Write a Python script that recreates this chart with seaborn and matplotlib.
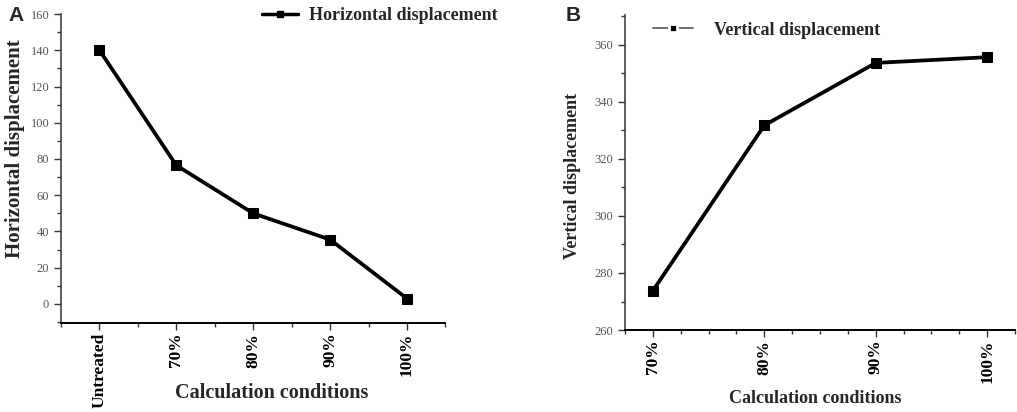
import numpy as np
import pandas as pd
import matplotlib
matplotlib.use('Agg')
import matplotlib.pyplot as plt
from matplotlib.lines import Line2D
from matplotlib.ticker import MultipleLocator, FixedLocator
import seaborn as sns

# Data
conditions_a = ['Untreated', '70%', '80%', '90%', '100%']
horizontal = [140.0, 76.5, 50.0, 35.5, 3.0]

conditions_b = ['70%', '80%', '90%', '100%']
vertical = [273.8, 331.8, 353.7, 355.7]

sns.set_theme(style='white')
plt.rcParams['font.family'] = ['Liberation Serif', 'DejaVu Serif']

df_a = pd.DataFrame({'condition': conditions_a, 'value': horizontal})
df_b = pd.DataFrame({'condition': conditions_b, 'value': vertical})

fig = plt.figure(figsize=(10.17, 4.12), dpi=100)
ax_a = fig.add_axes([0.060, 0.216, 0.378, 0.750])
ax_b = fig.add_axes([0.6146, 0.199, 0.3835, 0.7646])

tick_gray = '#555555'

def style_axis(ax, labels, ylim, yticks, yminor, xmin, xmax, xminor_step):
    ax.set_ylim(*ylim)
    ax.set_xlim(xmin, xmax)
    ax.yaxis.set_major_locator(FixedLocator(yticks))
    ax.yaxis.set_minor_locator(MultipleLocator(yminor))
    ax.set_xticks(range(len(labels)))
    ax.set_xticklabels(labels, rotation=90, fontweight='bold', fontsize=12.5, color='black')
    ax.xaxis.set_minor_locator(MultipleLocator(xminor_step))
    for s in ['top', 'right']:
        ax.spines[s].set_visible(False)
    ax.spines['left'].set_color('#444444')
    ax.spines['bottom'].set_color('black')
    ax.spines['left'].set_linewidth(1.2)
    ax.spines['bottom'].set_linewidth(1.4)
    ax.tick_params(axis='both', which='major', direction='out', length=5, width=1.0,
                   color='#333333', bottom=True, left=True)
    ax.tick_params(axis='both', which='minor', direction='out', length=3, width=1.0,
                   color='#333333', bottom=True, left=True)
    ax.tick_params(axis='y', labelsize=9, labelcolor=tick_gray)
    ax.tick_params(axis='x', pad=2)
    ax.set_facecolor('white')

# Panel A
sns.lineplot(data=df_a, x='condition', y='value', sort=False, marker='s', markersize=7,
             color='black', linewidth=2.7, markeredgecolor='black', ax=ax_a)
style_axis(ax_a, conditions_a, (-10.5, 160), np.arange(0, 161, 20), 10, -0.5, 4.5, 0.5)
ax_a.set_xlabel('Calculation conditions', fontsize=14.5, fontweight='bold')
ax_a.xaxis.set_label_coords(0.547, -0.227)
ax_a.xaxis.label.set_va('center')
ax_a.set_ylabel('Horizontal displacement', fontsize=15, fontweight='bold')
ax_a.yaxis.set_label_coords(-0.12, 0.563)
ax_a.yaxis.label.set_va('center')
h_a = Line2D([], [], color='black', linewidth=2.5, marker='s', markersize=5)
ax_a.legend([h_a], ['Horizontal displacement'], loc='upper left', bbox_to_anchor=(0.48, 1.075),
            frameon=False, prop={'weight': 'bold', 'size': 13}, handlelength=2.0,
            handletextpad=0.6)

# Panel B
sns.lineplot(data=df_b, x='condition', y='value', sort=False, marker='s', markersize=7,
             color='black', linewidth=2.7, markeredgecolor='black', ax=ax_b)
style_axis(ax_b, conditions_b, (260, 370.5), np.arange(260, 361, 20), 10, -0.25, 3.25, 0.25)
ax_b.set_xlabel('Calculation conditions', fontsize=13, fontweight='bold')
ax_b.xaxis.set_label_coords(0.487, -0.216)
ax_b.xaxis.label.set_va('center')
ax_b.set_ylabel('Vertical displacement', fontsize=13, fontweight='bold')
ax_b.yaxis.set_label_coords(-0.136, 0.489)
ax_b.yaxis.label.set_va('center')
h_b = Line2D([], [], color='#555555', linewidth=1.2, marker='s', markersize=6,
             markerfacecolor='black', markeredgecolor='white', markeredgewidth=2)
ax_b.legend([h_b], ['Vertical displacement'], loc='upper left', bbox_to_anchor=(0.03, 1.03),
            frameon=False, prop={'weight': 'bold', 'size': 13}, handlelength=2.2,
            handletextpad=1.2)

# Panel letters
fig.text(0.008, 0.985, 'A', fontsize=15, fontweight='bold', family='Liberation Sans', va='top')
fig.text(0.556, 0.985, 'B', fontsize=15, fontweight='bold', family='Liberation Sans', va='top')

fig.savefig('out.png', dpi=100, facecolor='white')
